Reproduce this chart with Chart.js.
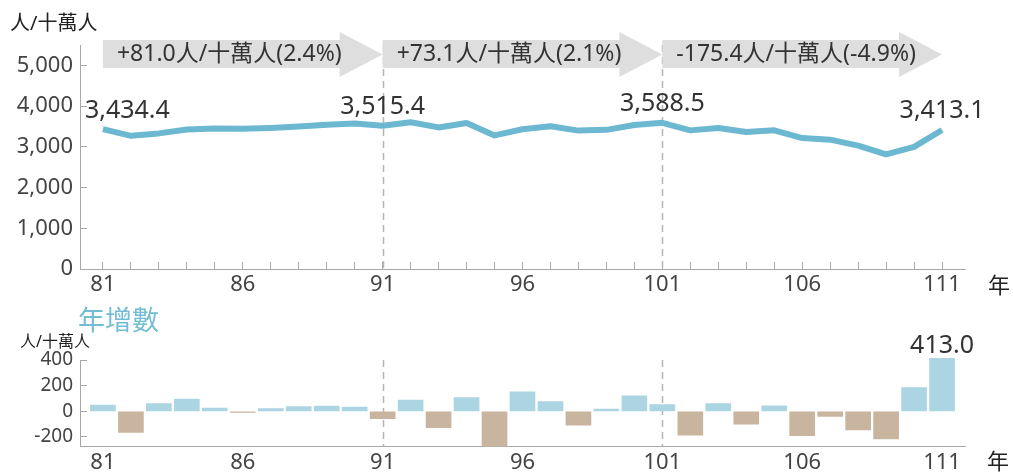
<!DOCTYPE html>
<html>
<head>
<meta charset="utf-8">
<script src="https://cdn.jsdelivr.net/npm/chart.js@4/dist/chart.umd.min.js"></script>
<style>
body{margin:0;background:#fff;width:1013px;height:472px;overflow:hidden;position:relative;font-family:"Noto Sans","Noto Sans CJK TC",sans-serif;}
canvas{position:absolute;left:0;}
#topChart{top:0;}
#bottomChart{top:300px;}
.txt{position:absolute;white-space:nowrap;line-height:1;}
</style>
</head>
<body>
<canvas id="topChart" width="1013" height="300"></canvas>
<canvas id="bottomChart" width="1013" height="172"></canvas>
<div class="txt" style="left:10px;top:13px;font-size:20px;color:#222;">人/十萬人</div>
<div class="txt" style="left:988px;top:273px;font-size:22px;color:#222;">年</div>
<div class="txt" style="left:78px;top:306px;font-size:27px;color:#72bcd4;">年增數</div>
<div class="txt" style="left:20px;top:333px;font-size:16px;color:#222;">人/十萬人</div>
<div class="txt" style="left:987px;top:449px;font-size:22px;color:#222;">年</div>
<script>
// 年度 (民國)
var years = [81, 82, 83, 84, 85, 86, 87, 88, 89, 90, 91, 92, 93, 94, 95, 96,
	97, 98, 99, 100, 101, 102, 103, 104, 105, 106, 107, 108, 109, 110, 111];
// 人/十萬人
var rate = [3434.4, 3269.4, 3329.4, 3424.4, 3449.4, 3441.4, 3463.4, 3499.4, 3539.4, 3572.4,
	3515.4, 3603.4, 3476.4, 3583.4, 3279.4, 3430.4, 3505.4, 3398.4, 3416.4, 3536.4,
	3588.5, 3403.5, 3463.5, 3363.5, 3405.5, 3215.5, 3175.5, 3030.5, 2815.1, 3000.1, 3413.1];
// 年增數
var yearChange = [49, -165, 60, 95, 25, -8, 22, 36, 40, 33,
	-57, 88, -127, 107, -304, 151, 75, -107, 18, 120,
	52.1, -185, 60, -100, 42, -190, -40, -145, -215.4, 185, 413.0];

var periodStart = [81, 91, 101];
var periodEnd = [91, 101, 111];
var periodText = ['+81.0人/十萬人(2.4%)', '+73.1人/十萬人(2.1%)', '-175.4人/十萬人(-4.9%)'];
var dashYears = [91, 101];
var labelYears = [81, 91, 101, 111];
var xLabelYears = [81, 86, 91, 96, 101, 106, 111];
var topYTicks = [0, 1000, 2000, 3000, 4000, 5000];
var bottomYTicks = [-200, 0, 200, 400];

var FONT = '"Noto Sans", "Noto Sans CJK TC", sans-serif';
Chart.defaults.font.family = FONT;
Chart.defaults.color = '#444';

var lineColor = '#6db8d1';
var upColor = '#abd5e2';
var downColor = '#c9b49f';
var axisColor = '#a8a8a8';

function drawDashes(chart) {
	var ctx = chart.ctx, x = chart.scales.x, area = chart.chartArea;
	ctx.save();
	ctx.strokeStyle = '#b5b5b5';
	ctx.lineWidth = 1.5;
	ctx.setLineDash([7, 5]);
	dashYears.forEach(function(y) {
		var px = Math.round(x.getPixelForValue(y)) + 0.5;
		ctx.beginPath();
		ctx.moveTo(px, area.top);
		ctx.lineTo(px, area.bottom);
		ctx.stroke();
	});
	ctx.restore();
}

var topDecor = {
	id: 'topDecor',
	beforeDatasetsDraw: function(chart) {
		drawDashes(chart);
	},
	afterDatasetsDraw: function(chart) {
		var ctx = chart.ctx, x = chart.scales.x, y = chart.scales.y;
		// 區間箭頭
		ctx.save();
		periodStart.forEach(function(s, i) {
			var x0 = x.getPixelForValue(s), x1 = x.getPixelForValue(periodEnd[i]);
			var hb = x1 - 43;
			ctx.fillStyle = '#dedede';
			ctx.beginPath();
			ctx.moveTo(x0, 40);
			ctx.lineTo(hb, 40);
			ctx.lineTo(hb, 32);
			ctx.lineTo(x1, 54.5);
			ctx.lineTo(hb, 77);
			ctx.lineTo(hb, 68);
			ctx.lineTo(x0, 68);
			ctx.closePath();
			ctx.fill();
			ctx.fillStyle = '#333';
			ctx.font = '23px ' + FONT;
			ctx.textAlign = 'left';
			ctx.textBaseline = 'middle';
			ctx.fillText(periodText[i], x0 + 14, 54);
		});
		// 數值標籤
		ctx.fillStyle = '#333';
		ctx.font = '25px ' + FONT;
		ctx.textBaseline = 'middle';
		labelYears.forEach(function(yr, k) {
			var idx = years.indexOf(yr);
			var v = rate[idx];
			var px = x.getPixelForValue(yr), py = y.getPixelForValue(v);
			var s = v.toLocaleString('en-US', {minimumFractionDigits: 1, maximumFractionDigits: 1});
			if (k == 0) {
				ctx.textAlign = 'left';
				ctx.fillText(s, px - 18, py - 18);
			} else {
				ctx.textAlign = 'center';
				ctx.fillText(s, px, py - 19);
			}
		});
		ctx.restore();
	}
};

var bottomDecor = {
	id: 'bottomDecor',
	beforeDatasetsDraw: function(chart) {
		drawDashes(chart);
	},
	afterDatasetsDraw: function(chart) {
		var ctx = chart.ctx, x = chart.scales.x, y = chart.scales.y;
		var idx = years.length - 1;
		ctx.save();
		ctx.fillStyle = '#333';
		ctx.font = '25px ' + FONT;
		ctx.textAlign = 'center';
		ctx.textBaseline = 'bottom';
		ctx.fillText(yearChange[idx].toFixed(1), x.getPixelForValue(years[idx]), y.getPixelForValue(yearChange[idx]));
		ctx.restore();
	}
};

function xScale(withTicks, labelPad) {
	return {
		type: 'linear',
		min: 80.18,
		max: 111.82,
		offset: false,
		afterBuildTicks: function(scale) {
			scale.ticks = years.map(function(v) { return {value: v}; });
		},
		afterFit: function(scale) { scale.height = withTicks ? 31 : 25; },
		ticks: {
			autoSkip: false,
			maxRotation: 0,
			padding: labelPad,
			font: {size: 22},
			color: '#444',
			callback: function(v) { return xLabelYears.indexOf(v) >= 0 ? String(v) : ''; }
		},
		grid: {offset: false, drawOnChartArea: false, drawTicks: withTicks, tickLength: -7, color: axisColor},
		border: {color: axisColor, width: 1}
	};
}

function yScale(min, max, tickList, fontSize) {
	return {
		min: min,
		max: max,
		afterBuildTicks: function(scale) {
			scale.ticks = tickList.map(function(v) { return {value: v}; });
		},
		afterFit: function(scale) { scale.width = 80; },
		ticks: {
			padding: 14,
			font: {size: fontSize},
			color: '#444',
			callback: function(v) { return v.toLocaleString('en-US'); }
		},
		grid: {drawOnChartArea: false, tickLength: -7, color: axisColor},
		border: {color: axisColor, width: 1}
	};
}

new Chart(document.getElementById('topChart').getContext('2d'), {
	type: 'line',
	data: {
		datasets: [{
			data: years.map(function(yr, i) { return {x: yr, y: rate[i]}; }),
			borderColor: lineColor,
			borderWidth: 6,
			pointRadius: 0,
			tension: 0,
			borderJoinStyle: 'round',
			fill: false
		}]
	},
	options: {
		responsive: false,
		animation: false,
		layout: {padding: {left: 0, top: 45, right: 48, bottom: 0}},
		plugins: {legend: {display: false}, tooltip: {enabled: false}},
		scales: {
			x: xScale(true, 10),
			y: yScale(0, 5500, topYTicks, 22)
		}
	},
	plugins: [topDecor]
});

new Chart(document.getElementById('bottomChart').getContext('2d'), {
	type: 'bar',
	data: {
		datasets: [{
			data: years.map(function(yr, i) { return {x: yr, y: yearChange[i]}; }),
			backgroundColor: yearChange.map(function(v) { return v >= 0 ? upColor : downColor; }),
			barThickness: 25,
			clip: {left: false, top: false, right: false, bottom: 0}
		}]
	},
	options: {
		responsive: false,
		animation: false,
		layout: {padding: {left: 0, top: 60, right: 48, bottom: 0}},
		plugins: {legend: {display: false}, tooltip: {enabled: false}},
		scales: {
			x: xScale(false, 3),
			y: yScale(-275, 400, bottomYTicks, 19)
		}
	},
	plugins: [bottomDecor]
});
</script>
</body>
</html>
